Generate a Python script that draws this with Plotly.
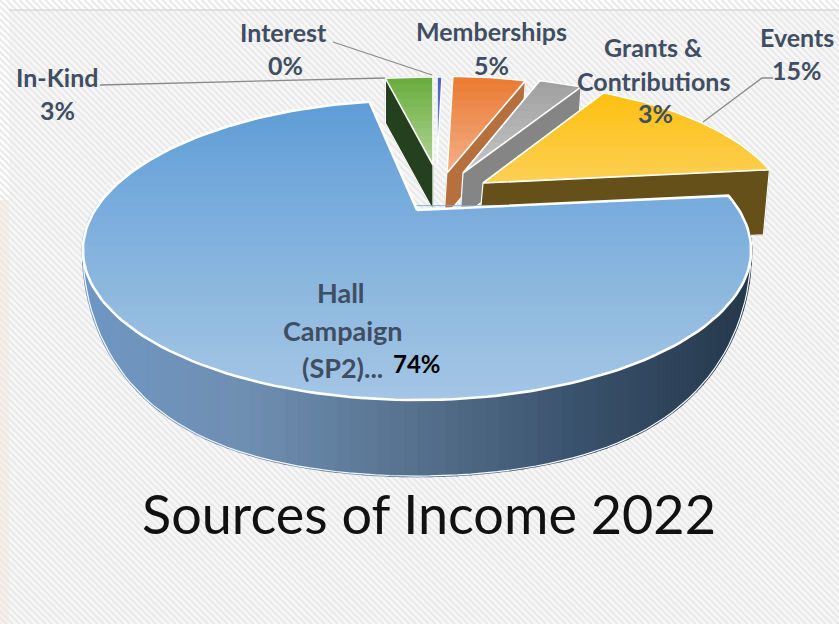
import plotly.graph_objects as go
import numpy as np

# ---- data ----
categories = ["Interest", "Memberships", "Grants & Contributions", "Events", "Hall Campaign (SP2)...", "In-Kind"]
values = [0.4, 5, 3, 15, 74, 3]
value_labels = ["0%", "5%", "3%", "15%", "74%", "3%"]
title_text = "Sources of Income 2022"

# ---- styling / geometry (separate from data) ----
W, H = 839, 624
K = 0.267; AX = 322.0; BY = 139.3
HUB = (417.0, 210.0)
apex_offset = [(20, -45), (30, -37), (46, -37), (66, -27), (0, 0), (16, -45)]
rim_scale = [(0.8, 0.8), (0.92, 0.88), (0.9, 0.88), (0.92, 0.92), (1, 1), (1.0, 0.8)]
wall_shift = [(0, 0), (-3, 45), (-3, 45), (-6, 65), None, (0, 45)]
top_cols = [("#4a5fc0", "#8d9be0"), ("#ea7a30", "#f5b08a"), ("#a0a0a0", "#c6c6c6"),
            ("#fdc010", "#fdd055"), None, ("#68ad3c", "#b0d496")]
wall_cols = ["#3a4a90", "#b5703e", "#858585", "#66501a", None, "#24401f"]
TEXT = "#3f4e63"
FONT = "Lato"


def rim(t_deg):
    t = np.radians(t_deg)
    X, Y = np.sin(t), np.cos(t)
    w = 1 + K * Y
    return AX * X / w, -BY * Y / w


def hexrgb(c):
    return np.array([int(c[i:i + 2], 16) for i in (1, 3, 5)], float)


def mix(stops, f):
    f = min(max(f, 0), 1) * (len(stops) - 1)
    i = min(int(f), len(stops) - 2)
    c = hexrgb(stops[i]) * (1 - (f - i)) + hexrgb(stops[i + 1]) * (f - i)
    return "rgb(%d,%d,%d)" % tuple(c)


def clip_y(pts, y0, y1):
    def clip(p, inside, cross):
        out = []
        for i in range(len(p)):
            a, b = p[i], p[(i + 1) % len(p)]
            if inside(a):
                out.append(a)
            if inside(a) != inside(b):
                out.append(cross(a, b))
        return out

    def at(v):
        return lambda a, b: (a[0] + (b[0] - a[0]) * (v - a[1]) / (b[1] - a[1]), v)

    p = clip(pts, lambda q: q[1] >= y0, at(y0))
    return clip(p, lambda q: q[1] <= y1, at(y1)) if p else p


def hull(pts):
    pts = sorted(set(pts))
    def half(seq):
        o = []
        for p in seq:
            while len(o) > 1 and (o[-1][0] - o[-2][0]) * (p[1] - o[-2][1]) - (o[-1][1] - o[-2][1]) * (p[0] - o[-2][0]) <= 0:
                o.pop()
            o.append(p)
        return o[:-1]
    return half(pts) + half(pts[::-1])


fig = go.Figure()


def poly(pts, color, lw=0.6):
    xs = [p[0] for p in pts] + [pts[0][0]]
    ys = [p[1] for p in pts] + [pts[0][1]]
    fig.add_trace(go.Scatter(x=xs, y=ys, mode="lines", fill="toself", fillcolor=color,
                             line=dict(color=color, width=lw),
                             hoverinfo="skip", showlegend=False))


def outline(pts, color="#ffffff", width=2.2, close=True):
    p = pts + [pts[0]] if close else pts
    fig.add_trace(go.Scatter(x=[q[0] for q in p], y=[q[1] for q in p], mode="lines",
                             line=dict(color=color, width=width), hoverinfo="skip", showlegend=False))


# background hatch
hx, hy = [], []
for c in np.arange(-H, W, 6.5):
    hx += [c, c + H, None]
    hy += [0, H, None]
fig.add_trace(go.Scatter(x=hx, y=hy, mode="lines", line=dict(color="#e9e9e9", width=2),
                         hoverinfo="skip", showlegend=False))

# angular spans from the values
total = sum(values)
cum = np.concatenate([[0], np.cumsum(values)])
spans = [(360 * cum[i] / total, 360 * cum[i + 1] / total) for i in range(len(values))]
wedges = []
for i, (a, b) in enumerate(spans):
    ox, oy = apex_offset[i]
    sx, sy = rim_scale[i]
    ap = (HUB[0] + ox, HUB[1] + oy)
    n = max(2, int((b - a) / 1.5) + 2)
    arc = [(ap[0] + sx * rim(t)[0], ap[1] + sy * rim(t)[1]) for t in np.linspace(a, b, n)]
    wedges.append([ap] + arc)

# small slices, back to front
hall = categories.index("Hall Campaign (SP2)...")
for i in [5, 0, 1, 2, 3]:
    pts = wedges[i]
    if wall_shift[i][1]:
        dx, dy = wall_shift[i]
        sweep = hull([(float(x), float(y)) for x, y in pts] + [(float(x + dx), float(y + dy)) for x, y in pts])
        poly(sweep, wall_cols[i])
        outline(sweep, width=1.2)
    ys = [p[1] for p in pts]
    y0, y1 = min(ys), max(ys)
    edges = np.linspace(y0, y1, 13)
    for j in range(12):
        c = clip_y(pts, edges[j], edges[j + 1] + 0.6)
        if c:
            poly(c, mix(top_cols[i], (j + 0.5) / 12))
    outline(pts, width=1.6)

# main slice outer wall, strips
a, b = spans[hall]
ts = np.linspace(a, b, 150)
side = ["#6f97c4", "#6f8fb2", "#57728f", "#3a526c", "#26394d"]


def wall_pt(t):
    x, y = rim(t)
    px, py = HUB[0] + x, HUB[1] + y
    u = min(abs(x) / 334.0, 1)
    return px, py + 76 * np.sqrt(max(1 - u ** 5, 0))


for j in range(len(ts) - 1):
    t0, t1 = ts[j], ts[j + 1]
    if np.cos(np.radians((t0 + t1) / 2)) > 0.05:
        continue
    p0, p1 = rim(t0), rim(t1)
    tl = [(HUB[0] + p0[0], HUB[1] + p0[1]), (HUB[0] + p1[0], HUB[1] + p1[1])]
    pts = tl + [wall_pt(t1), wall_pt(t0)]
    poly(pts, mix(side, (tl[0][0] - 85) / 665), lw=2.5)

# bottom silhouette of the wall
sil = [wall_pt(t) for t in ts if np.cos(np.radians(t)) <= 0.05]
outline(sil, color="#f4f8fb", width=1.2, close=False)

# main slice top, gradient bands
pts = wedges[hall]
top_grad = ["#5c9cd6", "#78acdd", "#90badf", "#a6c7e7"]
edges = np.linspace(95, 405, 32)
for j in range(31):
    c = clip_y(pts, edges[j], edges[j + 1] + 0.6)
    if c:
        poly(c, mix(top_grad, (j + 0.5) / 31))
outline(pts, width=2.6)

# leader lines
for lx, ly in [([333, 432], [42, 75]), ([100, 385], [85, 78]), ([773, 762, 703], [78, 78, 122])]:
    fig.add_trace(go.Scatter(x=lx, y=ly, mode="lines", line=dict(color="#8a8a8a", width=1.3),
                             hoverinfo="skip", showlegend=False))


def label(text, x, y, color=TEXT, size=25, weight=700):
    fig.add_annotation(x=x, y=y, text=text, showarrow=False, xanchor="center", yanchor="middle",
                       font=dict(family=FONT, size=size, color=color, weight=weight))


label("Interest", 283, 32); label(value_labels[0], 285, 65)
label("Memberships", 491, 31); label(value_labels[1], 491, 65)
label("Grants &", 653, 47); label("Contributions", 653, 81); label(value_labels[2], 655, 113)
label("Events", 797, 37); label(value_labels[3], 797, 70)
label("In-Kind", 57, 77); label(value_labels[5], 57, 110)
label("Hall", 341, 292, size=27); label("Campaign", 343, 330, size=27); label("(SP2)...", 342, 367, size=27)
label(value_labels[4], 417, 363, color="#000000", size=24)
label(title_text, 429, 513, color="#111111", size=54, weight=400)

shapes = [
    dict(type="rect", x0=0, x1=W, y0=0, y1=H, fillcolor="#ffffff", line_width=0, layer="below"),
    dict(type="rect", x0=9, x1=W, y0=10, y1=H, fillcolor="#f7f7f7", line_width=0, layer="below"),
    dict(type="rect", x0=0, x1=9, y0=200, y1=H, fillcolor="#f8efe6", line_width=0, layer="below"),
    dict(type="line", x0=9, x1=W, y0=10, y1=10, line=dict(color="#d9d9d9", width=1.5)),
]
fig.update_layout(
    width=W, height=H, autosize=False, margin=dict(l=0, r=0, t=0, b=0),
    paper_bgcolor="#ffffff", plot_bgcolor="rgba(0,0,0,0)", shapes=shapes, showlegend=False,
    xaxis=dict(range=[0, W], visible=False, fixedrange=True),
    yaxis=dict(range=[H, 0], visible=False, fixedrange=True),
)
fig.write_html("out.html", config={"displayModeBar": False},
               post_script="document.body.style.margin='0';")
